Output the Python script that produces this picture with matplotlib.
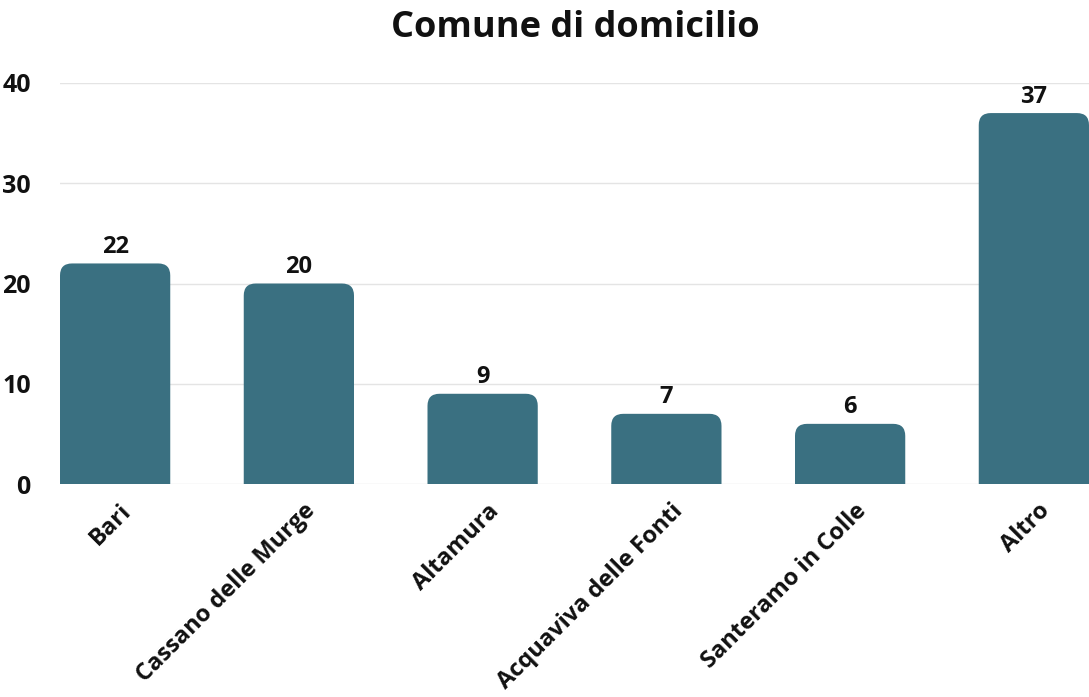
import numpy as np
import matplotlib.pyplot as plt
from matplotlib.patches import FancyBboxPatch
from matplotlib.transforms import ScaledTranslation

comuni = ["Bari", "Cassano delle Murge", "Altamura", "Acquaviva delle Fonti",
          "Santeramo in Colle", "Altro"]
valori = [22, 20, 9, 7, 6, 37]

colore = "#3a7081"
plt.rcParams['font.family'] = ['Open Sans', 'DejaVu Sans']

fig = plt.figure(figsize=(10.89, 6.97), dpi=100)
ax = fig.add_axes([60 / 1089, 1 - 484 / 697, 1 - 60 / 1089, (484 - 83) / 697])

ax.set_xlim(-0.3, len(comuni) - 0.7)
ax.set_ylim(0, 40)

# rapporto tra unita' y e x per pixel, serve per gli angoli arrotondati
px_x = (ax.get_xlim()[1] - ax.get_xlim()[0]) / ax.bbox.width
px_y = (ax.get_ylim()[1] - ax.get_ylim()[0]) / ax.bbox.height
aspect = px_y / px_x
r = 12 * px_x
larghezza = 0.6

x = np.arange(len(comuni))
for xi, v in zip(x, valori):
    box = FancyBboxPatch((xi - larghezza / 2, -3), larghezza, v + 3,
                         boxstyle=f"round,pad=0,rounding_size={r}",
                         mutation_aspect=aspect, facecolor=colore,
                         edgecolor='none', zorder=3)
    ax.add_patch(box)
    ax.text(xi, v + 0.45, str(v), ha='center', va='bottom', fontsize=17,
            fontweight='bold', color='#111111', zorder=4)

ax.set_yticks([0, 10, 20, 30, 40])
ax.grid(axis='y', color='#e4e4e4', linewidth=1, zorder=0)
ax.tick_params(axis='y', length=0, pad=21, labelsize=18)
for lab in ax.get_yticklabels():
    lab.set_fontweight('bold')
    lab.set_color('#111111')

ax.set_xticks(x)
ax.set_xticklabels(comuni, rotation=45, ha='right', rotation_mode='anchor',
                   fontsize=17, fontweight='bold', color='#111111')
ax.tick_params(axis='x', length=0, pad=11)
off = ScaledTranslation(4 / 100, 0, fig.dpi_scale_trans)
for lab in ax.get_xticklabels():
    lab.set_transform(lab.get_transform() + off)

for s in ax.spines.values():
    s.set_visible(False)

fig.text(575 / 1089, 1 - 28 / 697, "Comune di domicilio", ha='center', va='center',
         fontsize=26, fontweight='bold', color='#111111')

fig.savefig("out.png", dpi=100)
